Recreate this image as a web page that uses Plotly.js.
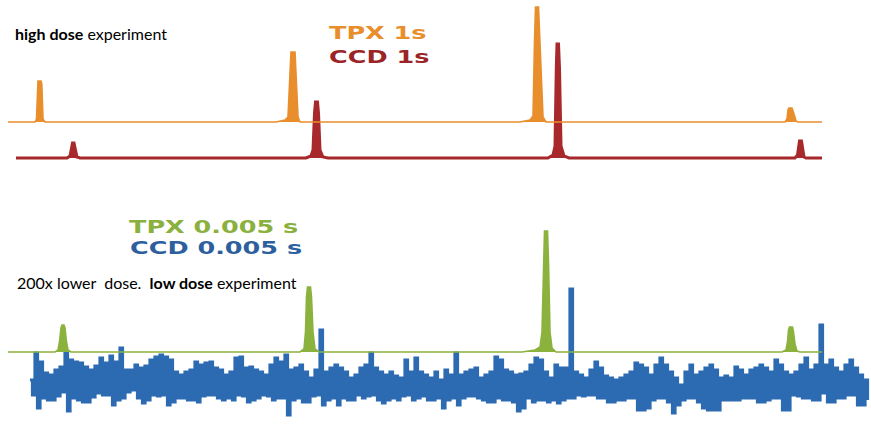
<!DOCTYPE html>
<html><head><meta charset="utf-8">
<script src="https://cdn.plot.ly/plotly-3.0.1.min.js"></script>
<style>
html,body{margin:0;padding:0;background:#fff;}
#chart{width:871px;height:424px;}
text.annotation-text[data-unformatted^="TPX"], text.annotation-text[data-unformatted^="CCD"]{transform-box:fill-box;transform-origin:0 50%;transform:scaleX(1.5);}
</style></head><body><div id="chart"></div><script>
// ---- data (channel vs. signal above each trace's own baseline) ----
const tpx1sX = [8, 35, 36.5, 37.3, 38, 41, 41.8, 43, 45, 276, 285, 288, 289.5, 291, 295, 297, 298, 300, 520, 530, 533, 534.5, 535.5, 538.5, 541, 543, 546, 785, 787, 788, 789, 792, 794, 796, 798, 822];
const tpx1sY = [0, 0, 3, 38, 41, 41, 38, 3, 0, 0, 2, 5, 40, 70, 70, 30, 5, 0, 0, 2, 6, 80, 115, 115, 60, 5, 0, 0, 3, 12, 14, 14, 8, 1, 0, 0];

const ccd1sX = [16, 67, 70, 71.5, 72.5, 74, 75.5, 77, 80, 306, 311, 313, 314.5, 315.5, 317.5, 318.5, 320, 323, 328, 548, 553, 555, 556.3, 557, 558.5, 559.5, 561, 564, 569, 795, 797.5, 798.7, 799.5, 801.5, 802.5, 804, 806, 822];
const ccd1sY = [0, 0, 2, 10, 15, 15, 8, 1, 0, 0, 2, 8, 45, 56, 56, 45, 8, 1, 0, 0, 3, 12, 90, 114, 114, 90, 12, 2, 0, 0, 3, 14, 17, 17, 10, 1, 0, 0];

const tpx005X = [8, 55, 58, 59.5, 61, 62, 64, 65, 66.5, 68, 71, 300, 304, 305.5, 306.5, 307.5, 310.5, 311.5, 313, 315, 319, 522, 535, 540, 542, 543.5, 544.5, 547.5, 548.5, 550, 552, 556, 782, 786, 787.5, 788.5, 789.5, 792.5, 793.5, 795, 797, 800, 822];
const tpx005Y = [0, 0, 2, 10, 24, 27, 27, 24, 10, 2, 0, 0, 3, 20, 55, 65, 65, 55, 20, 3, 0, 0, 2, 5, 20, 90, 121, 121, 90, 20, 4, 0, 0, 2, 10, 22, 25, 25, 20, 8, 1, 0, 0];

// CCD 0.005 s: noisy readout, upper and lower excursions every 5 channels from channel 30
const ccd005Start = 30, ccd005Step = 5;
const ccd005Upper = [3,30,21,10,8,13,16,30,23,21, 20,16,13,17,25,20,27,21,35,13,
  13,18,15,17,23,26,28,26,23,11, 8,11,13,21,18,20,21,15,13,8,
  11,25,26,15,16,13,11,8,18,25, 21,28,13,15,18,11,5,13,53,11,
  15,18,15,11,5,8,15,18,30,15, 11,8,11,7,5,23,11,25,11,8,
  5,11,3,13,8,30,8,11,13,15, 5,8,11,26,23,13,11,8,9,11,
  18,25,23,11,5,18,15,15,94,11, 8,5,13,21,15,7,5,3,5,8,
  11,20,18,15,8,18,25,18,11,5, -2,11,18,8,11,15,18,13,5,7,
  5,16,13,8,13,15,18,15,11,23, 18,11,8,11,18,25,13,18,58,18,
  23,15,11,18,23,15,8,3];
const ccd005Lower = [-12,-25,-15,-17,-17,-13,-9,-28,-15,-17, -19,-19,-14,-10,-12,-12,-22,-17,-15,-9,
  -7,-15,-20,-17,-12,-13,-12,-22,-19,-15, -15,-17,-17,-19,-13,-12,-12,-15,-17,-15,
  -17,-12,-13,-19,-17,-15,-12,-13,-17,-15, -15,-32,-17,-15,-19,-19,-13,-12,-22,-17,
  -15,-22,-15,-17,-17,-12,-15,-13,-12,-17, -20,-17,-15,-17,-13,-12,-17,-15,-13,-17,
  -17,-15,-25,-17,-15,-22,-15,-13,-13,-15, -17,-19,-19,-15,-17,-17,-19,-28,-25,-15,
  -19,-17,-17,-19,-17,-20,-17,-15,-15,-12, -13,-12,-12,-15,-15,-19,-19,-17,-17,-15,
  -15,-27,-27,-25,-17,-15,-15,-19,-30,-22, -17,-15,-15,-19,-25,-27,-27,-27,-17,-17,
  -17,-17,-15,-15,-15,-19,-19,-17,-15,-15, -27,-27,-12,-13,-15,-15,-17,-17,-10,-19,
  -19,-15,-15,-12,-12,-22,-22,-17];

const labels = {
  tpx1s: 'TPX 1s', ccd1s: 'CCD 1s', tpx005: 'TPX 0.005 s', ccd005: 'CCD 0.005 s',
  high: '<b>high dose</b> experiment',
  low: '200x lower\u00a0 dose.\u00a0 <b>low dose</b> experiment'
};

// ---- presentation ----
const colors = {tpx1s: '#E98E2C', ccd1s: '#A8292B', tpx005: '#8CB23E', ccd005: '#2C6BB1',
  ccd1sText: '#9A2426', ccd005Text: '#2D5F9F', tpx005Text: '#8AB03E'};
const offsets = {tpx1s: 302, ccd1s: 266, tpx005: 72, ccd005: 41};

function shift(arr, off) { return arr.map(v => v + off); }

const ccdX = [], ccdY = [];
ccd005Upper.forEach((u, i) => {
  const x0 = ccd005Start + i * ccd005Step;
  ccdX.push(x0); ccdY.push(u + offsets.ccd005);
  ccdX.push(x0 + ccd005Step / 2); ccdY.push(ccd005Lower[i] + offsets.ccd005);
});

function peakTrace(x, y, off, color, w) {
  return {x: x, y: shift(y, off), type: 'scatter', mode: 'lines', fill: 'toself',
    fillcolor: color, line: {color: color, width: w, shape: 'linear'}, hoverinfo: 'skip'};
}

const data = [
  peakTrace(ccd1sX, ccd1sY, offsets.ccd1s, colors.ccd1s, 3),
  peakTrace(tpx1sX, tpx1sY, offsets.tpx1s, colors.tpx1s, 1.6),
  {x: ccdX, y: ccdY, type: 'scatter', mode: 'lines', line: {color: colors.ccd005, width: 3.2, shape: 'hv'}, hoverinfo: 'skip'},
  peakTrace(tpx005X, tpx005Y, offsets.tpx005, colors.tpx005, 1.6)
];

const bigFont = (c) => ({family: 'DejaVu Sans', size: 17, color: c, weight: 'bold'});
const ann = (text, x, y, font) => ({text: text, x: x, y: y, xref: 'x', yref: 'y', xanchor: 'left', yanchor: 'middle', showarrow: false, font: font});

const layout = {
  width: 871, height: 424,
  margin: {l: 0, r: 0, t: 0, b: 0, pad: 0},
  paper_bgcolor: '#ffffff', plot_bgcolor: '#ffffff',
  showlegend: false,
  xaxis: {range: [0, 871], visible: false, fixedrange: true},
  yaxis: {range: [0, 424], visible: false, fixedrange: true},
  annotations: [
    ann(labels.high, 13, 391, {family: 'Lato', size: 16, color: '#000'}),
    ann(labels.tpx1s, 327, 391, bigFont(colors.tpx1s)),
    ann(labels.ccd1s, 327, 367, bigFont(colors.ccd1sText)),
    ann(labels.tpx005, 127, 197, bigFont(colors.tpx005Text)),
    ann(labels.ccd005, 128, 176, bigFont(colors.ccd005Text)),
    ann(labels.low, 15, 142, {family: 'Lato', size: 16, color: '#000'})
  ]
};

Plotly.newPlot('chart', data, layout, {staticPlot: true, displayModeBar: false});
</script></body></html>
